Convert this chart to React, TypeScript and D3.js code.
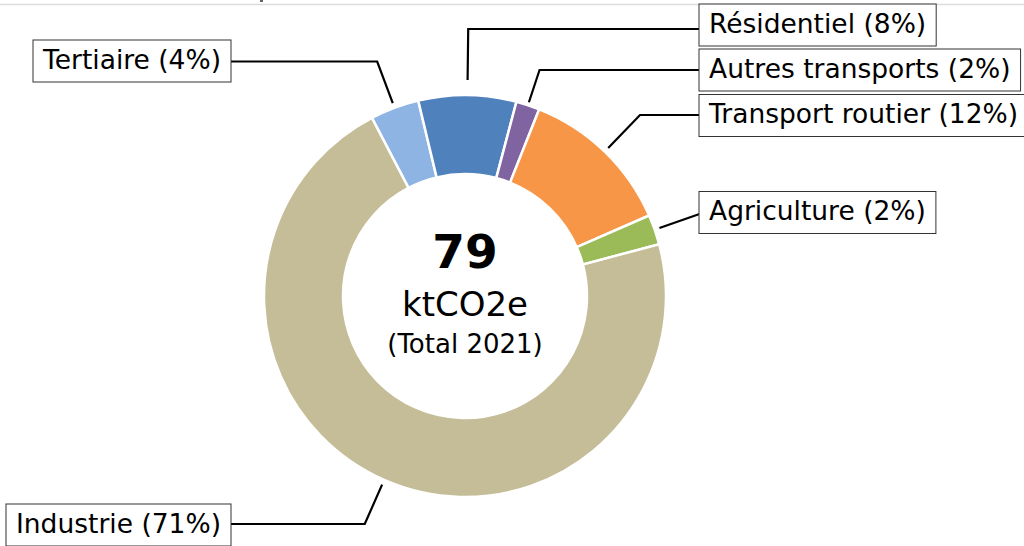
import React, {useEffect, useRef} from 'react';
import * as d3 from 'd3';

// sectors, clockwise from the top-left edge of the ring
const sectors = ['Tertiaire', 'Résidentiel', 'Autres transports', 'Transport routier', 'Agriculture', 'Industrie'];
const values = [3.1, 6.2, 1.5, 9.8, 1.9, 56.4]; // ktCO2e
const colors = ['#8eb4e3', '#4f81bd', '#8064a2', '#f79646', '#9bbb59', '#c4bd97'];
const year = 2021;

// label placement: side of the chart, box centre offset from ring centre, leader y offset, leader gap
const labelSide = ['left', 'right', 'right', 'right', 'right', 'left'];
const labelDy = [-235, -271, -226, -180.5, -83.5, 229];
const leaderDy = [-234.5, -267, -226, -181, -84, 228];
const leaderGap = [5, 15, 3, 5, 5, 5];

const W = 1024, H = 546;
const cx = 465, cy = 296;
const rOut = 201, rIn = 122;
const fontFamily = "'DejaVu Sans', sans-serif";
const fontSize = 26.5;
const pad = 10;
const boxH = 42;
const leftEdge = 231, rightEdge = 699;

export default function App() {
	const ref = useRef<SVGSVGElement>(null);

	useEffect(() => {
		const svg = d3.select(ref.current);
		svg.selectAll('*').remove();

		const total = d3.sum(values);
		const start = -27.6 * Math.PI / 180;

		const pie = d3.pie<number>()
			.sort(null)
			.value(d => d)
			.startAngle(start)
			.endAngle(start + 2 * Math.PI);
		const arcs = pie(values);

		const arc = d3.arc<d3.PieArcDatum<number>>()
			.innerRadius(rIn)
			.outerRadius(rOut);

		// frame line at the top
		svg.append('line')
			.attr('x1', 0).attr('x2', W)
			.attr('y1', 4.5).attr('y2', 4.5)
			.style('stroke', '#dcdcdc')
			.style('stroke-width', 1.5);
		svg.append('rect')
			.attr('x', 260).attr('y', 0)
			.attr('width', 3).attr('height', 2)
			.style('fill', '#666');

		const g = svg.append('g').attr('transform', `translate(${cx},${cy})`);

		g.selectAll('path.slice')
			.data(arcs)
			.enter()
			.append('path')
			.attr('class', 'slice')
			.attr('d', arc)
			.style('fill', (d, i) => colors[i])
			.style('stroke', '#fff')
			.style('stroke-width', 2.5);

		// leader lines
		arcs.forEach((d, i) => {
			const a = (d.startAngle + d.endAngle) / 2;
			const r = rOut + leaderGap[i];
			const px = r * Math.sin(a), py = -r * Math.cos(a);
			const ly = leaderDy[i];
			const t = (ly - py) / (-Math.cos(a));
			const ex = px + t * Math.sin(a);
			const bx = (labelSide[i] === 'left' ? leftEdge : rightEdge) - cx;
			const path = d3.path();
			path.moveTo(px, py);
			path.lineTo(ex, ly);
			path.lineTo(bx, ly);
			g.append('path')
				.attr('d', path.toString())
				.style('fill', 'none')
				.style('stroke', '#000')
				.style('stroke-width', 2.2);
		});

		// label boxes
		arcs.forEach((d, i) => {
			const pct = Math.round(d.value / total * 100);
			const lab = svg.append('g');
			const rect = lab.append('rect');
			const yc = cy + labelDy[i];
			const text = lab.append('text')
				.attr('y', yc + 7.5)
				.style('font-family', fontFamily)
				.style('font-size', `${fontSize}px`)
				.style('fill', '#000')
				.text(`${sectors[i]} (${pct}%)`);
			const tw = (text.node() as SVGTextElement).getComputedTextLength();
			const bw = tw + 2 * pad;
			const bx = labelSide[i] === 'left' ? leftEdge - bw : rightEdge;
			text.attr('x', bx + pad);
			rect.attr('x', bx).attr('y', yc - boxH / 2)
				.attr('width', bw).attr('height', boxH)
				.style('fill', '#fff')
				.style('stroke', '#333')
				.style('stroke-width', 1);
		});

		// centre text
		const c = svg.append('g')
			.style('font-family', fontFamily)
			.attr('text-anchor', 'middle');
		c.append('text')
			.attr('x', cx).attr('y', 268)
			.style('font-size', '47px')
			.style('font-weight', 'bold')
			.text(Math.round(total));
		c.append('text')
			.attr('x', cx).attr('y', 316)
			.style('font-size', '34px')
			.text('ktCO2e');
		c.append('text')
			.attr('x', cx).attr('y', 353)
			.style('font-size', '26px')
			.text(`(Total ${year})`);
	}, []);

	return (
		<svg
			ref={ref}
			width={W}
			height={H}
			style={{position: 'absolute', left: 0, top: 0, background: '#fff'}}
		/>
	);
}
